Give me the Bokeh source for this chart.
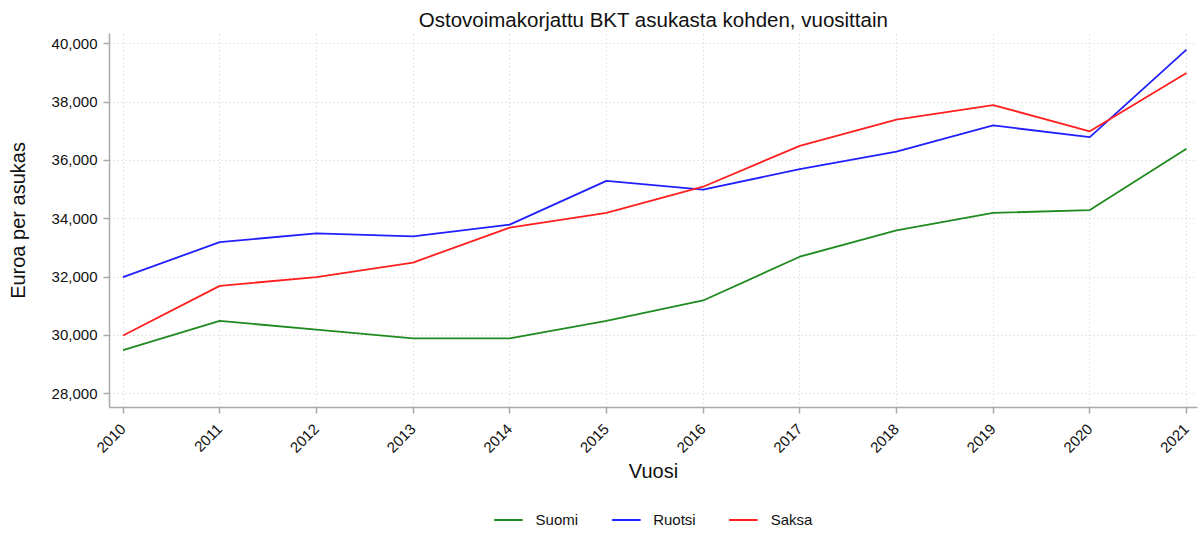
import math
from bokeh.plotting import figure
from bokeh.layouts import column
from bokeh.models import Range1d, NumeralTickFormatter, FixedTicker, Legend, LegendItem
from bokeh.embed import file_html
from bokeh.resources import INLINE

years = [2010, 2011, 2012, 2013, 2014, 2015, 2016, 2017, 2018, 2019, 2020, 2021]
suomi = [29500, 30500, 30200, 29900, 29900, 30500, 31200, 32700, 33600, 34200, 34300, 36400]
ruotsi = [32000, 33200, 33500, 33400, 33800, 35300, 35000, 35700, 36300, 37200, 36800, 39800]
saksa = [30000, 31700, 32000, 32500, 33700, 34200, 35100, 36500, 37400, 37900, 37000, 39000]
y_ticks = [28000, 30000, 32000, 34000, 36000, 38000, 40000]
series_names = ["Suomi", "Ruotsi", "Saksa"]
colors = ["#1f8a1f", "#2020ff", "#ff1f1f"]

FONT = "Liberation Sans"

p = figure(width=1199, height=495, output_backend="svg", toolbar_location=None,
           x_range=Range1d(2009.860, 2021.114), y_range=Range1d(27530, 40353),
           min_border_left=109, min_border_right=2, min_border_top=33, min_border_bottom=88)
p.outline_line_color = None
p.background_fill_color = "white"

p.title.text = "Ostovoimakorjattu BKT asukasta kohden, vuosittain"
p.title.align = "center"
p.title.text_font = FONT
p.title.text_font_size = "20.5px"
p.title.text_font_style = "normal"
p.title.text_color = "#111111"
p.title.standoff = 6

series = [suomi, ruotsi, saksa]
for name, vals, c in zip(series_names, series, colors):
    p.line(years, vals, line_color=c, line_width=1.8)

for ax in (p.xaxis[0], p.yaxis[0]):
    ax.axis_line_color = "#aaaaaa"
    ax.axis_line_width = 1.5
    ax.major_tick_line_color = "#aaaaaa"
    ax.major_tick_line_width = 1.5
    ax.major_tick_out = 6
    ax.major_tick_in = 0
    ax.minor_tick_line_color = None
    ax.major_label_text_font = FONT
    ax.major_label_text_font_size = "15px"
    ax.major_label_text_color = "#111111"
    ax.axis_label_text_font = FONT
    ax.axis_label_text_font_size = "20px"
    ax.axis_label_text_font_style = "normal"
    ax.axis_label_text_color = "#111111"

p.xaxis.ticker = FixedTicker(ticks=years)
p.xaxis.major_label_orientation = math.pi / 4
p.xaxis.axis_label = "Vuosi"
p.xaxis.axis_label_standoff = 0
p.xaxis.major_label_standoff = 13

p.yaxis.ticker = FixedTicker(ticks=y_ticks)
p.yaxis.formatter = NumeralTickFormatter(format="0,0")
p.yaxis.axis_label = "Euroa per asukas"
p.yaxis.axis_label_standoff = 20
p.yaxis.major_label_standoff = 6

p.xgrid.ticker = FixedTicker(ticks=years)
p.ygrid.ticker = FixedTicker(ticks=y_ticks)
for g in (p.xgrid[0], p.ygrid[0]):
    g.grid_line_color = "#cccccc"
    g.grid_line_dash = "1 3"
    g.grid_line_width = 1

# legend strip below the chart (its lines fall outside its view)
p2 = figure(width=1199, height=37, output_backend="svg", toolbar_location=None,
            x_axis_type=None, y_axis_type=None,
            x_range=Range1d(0, 1), y_range=Range1d(0, 1),
            min_border_left=109, min_border_right=2, min_border_top=11, min_border_bottom=0)
p2.outline_line_color = None
p2.xgrid.visible = False
p2.ygrid.visible = False
items = []
for name, vals, c in zip(series_names, series, colors):
    r = p2.line(years, vals, line_color=c, line_width=1.8)
    items.append(LegendItem(label=name, renderers=[r]))
legend = Legend(items=items, orientation="horizontal", location="center",
                label_text_font=FONT, label_text_font_size="15px", label_text_color="#111111",
                glyph_width=29, glyph_height=14, label_standoff=13, spacing=33,
                border_line_color=None, background_fill_alpha=0, padding=0, margin=0)
p2.add_layout(legend, "center")

open("out.html", "w").write(file_html(column(p, p2, spacing=0), INLINE))
